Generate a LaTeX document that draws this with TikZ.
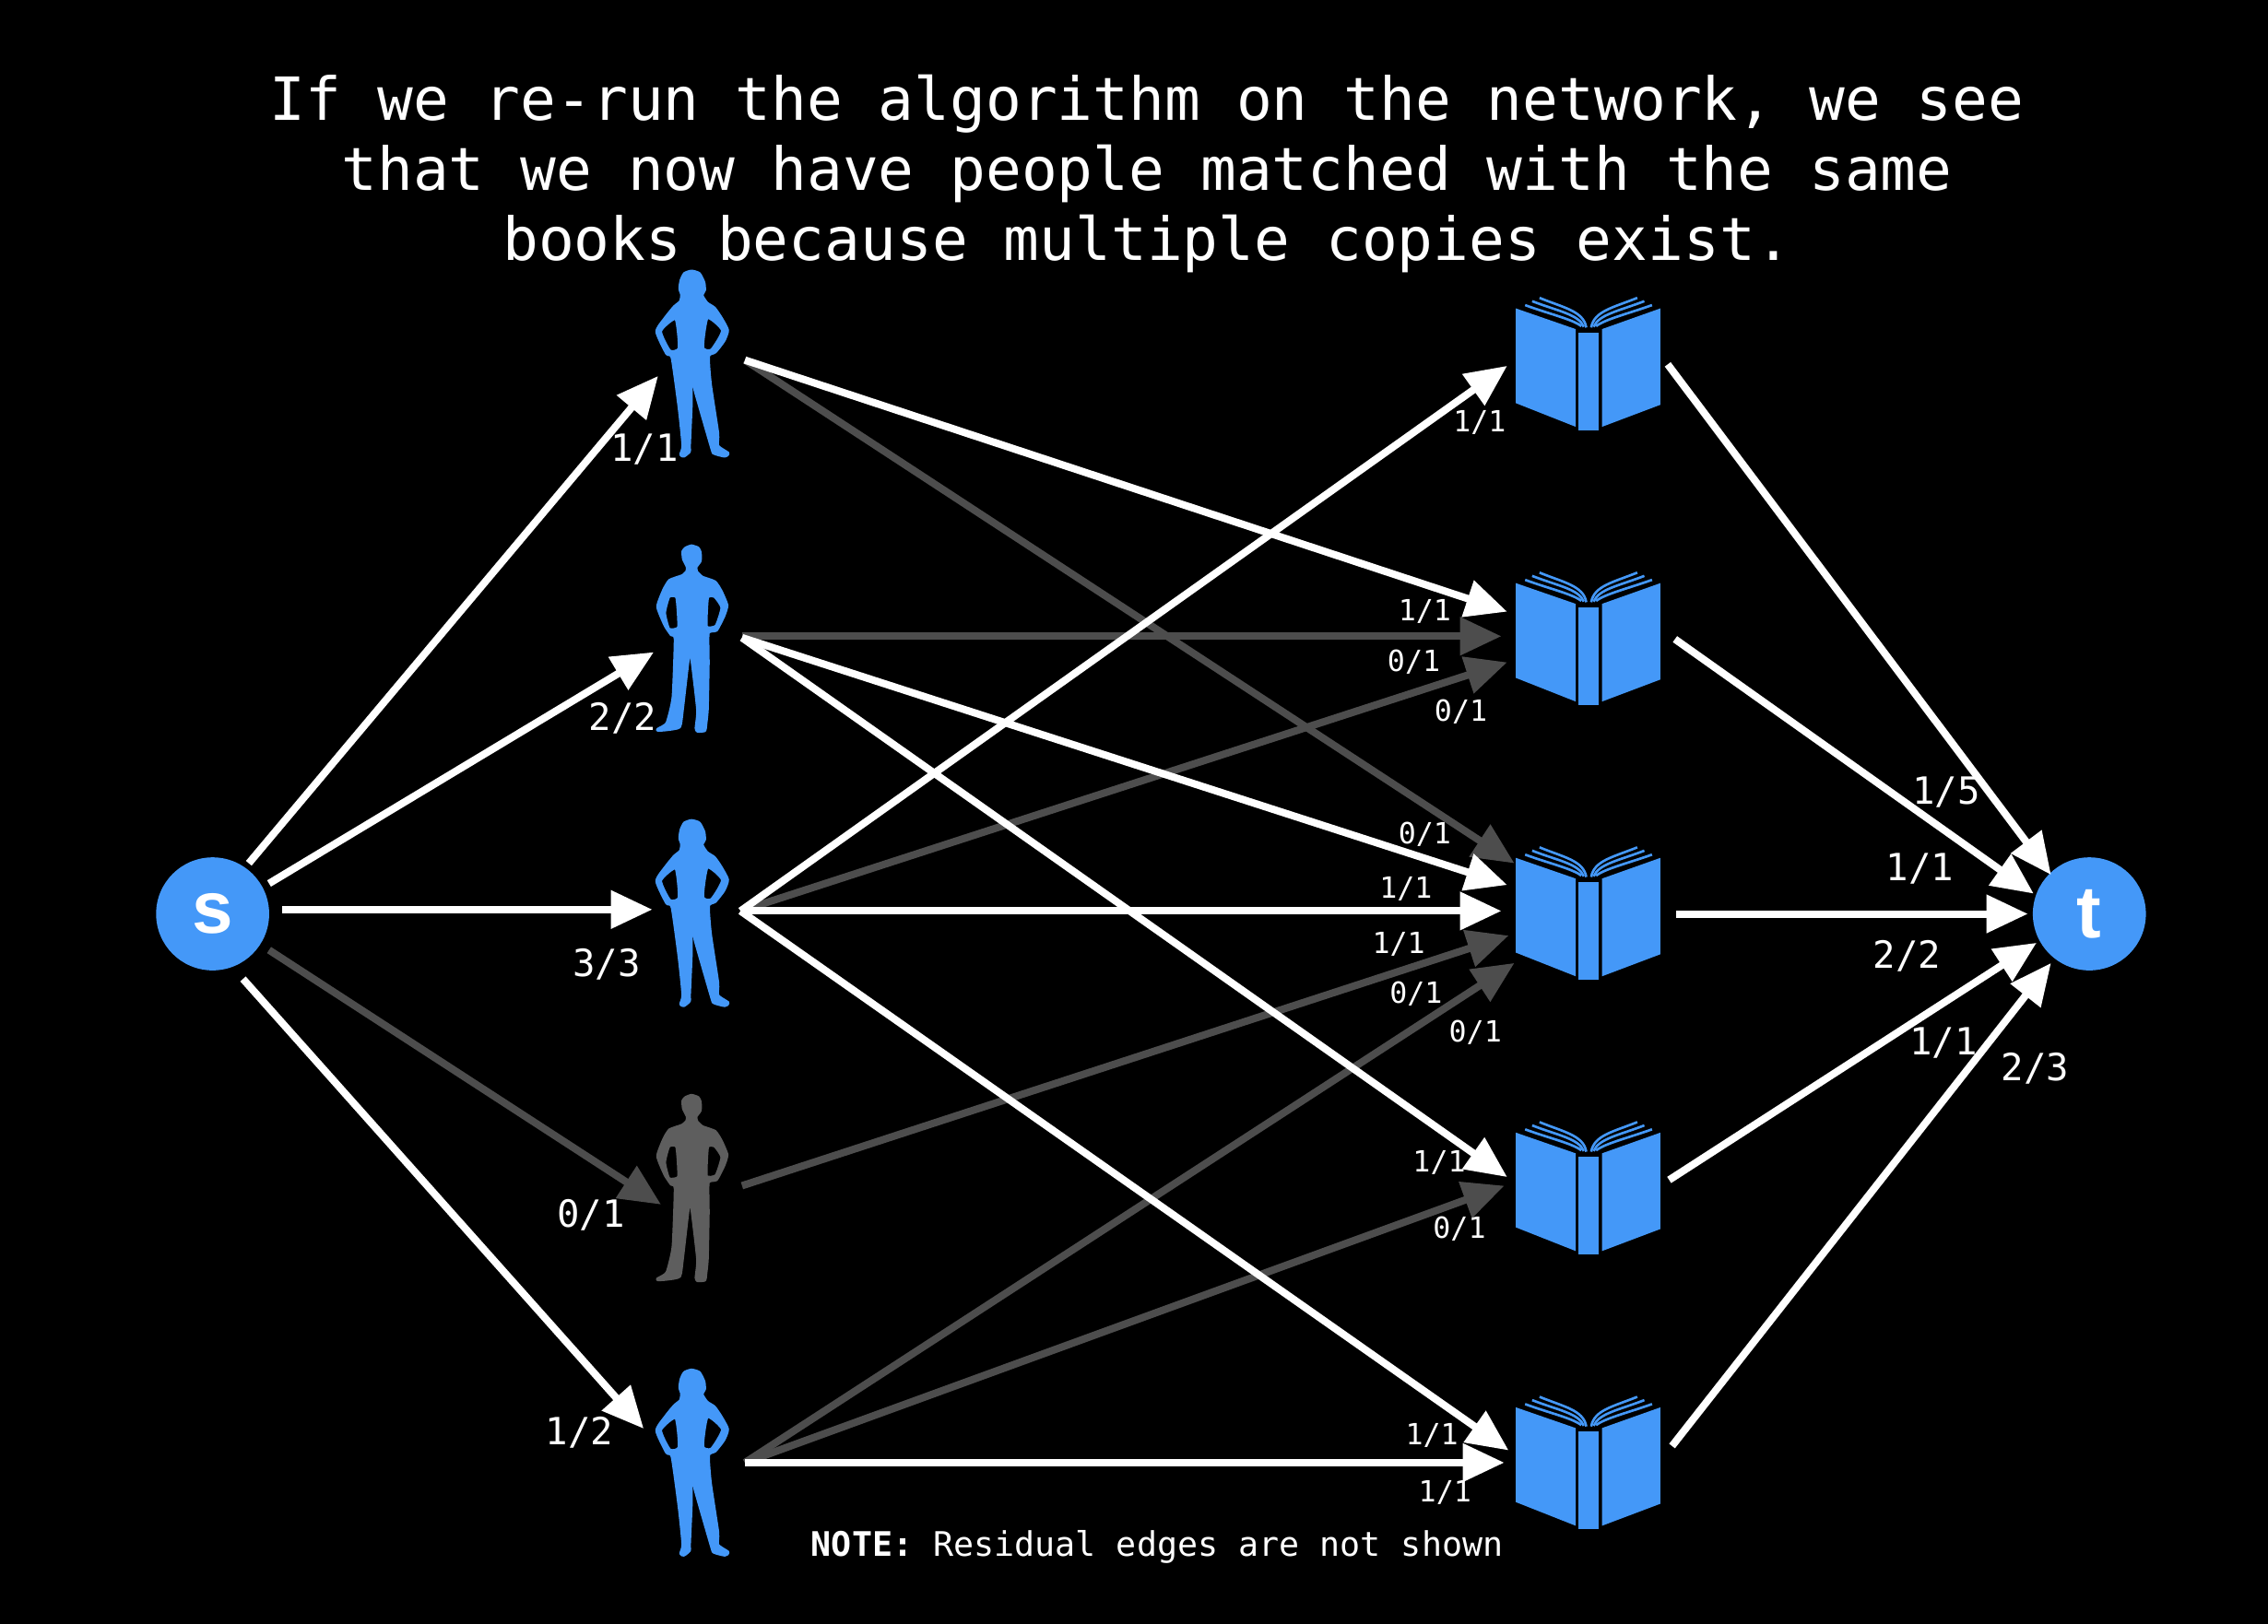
\documentclass[tikz,border=0pt]{standalone}
\usepackage{fontspec}
\usetikzlibrary{arrows.meta}
\newfontfamily\monof{DejaVu Sans Mono}
\newfontfamily\sansf{Liberation Sans}
\definecolor{nodeblue}{HTML}{4498F8}
\definecolor{dimedge}{HTML}{4D4D4D}
\definecolor{dimperson}{HTML}{5E5E5E}
\tikzset{
  liveedge/.style={draw=white,line width=2.4pt,-{Triangle[length=13.5pt,width=12pt]}},
  dimmededge/.style={draw=dimedge,line width=2.4pt,-{Triangle[length=13.5pt,width=12pt]}},
  endpoint/.style={circle,fill=nodeblue,minimum size=36.8pt,inner sep=0pt,text=white,font=\sansf\bfseries\fontsize{24}{24}\selectfont},
  biglabel/.style={text=white,inner sep=0pt,font=\monof\fontsize{12.2}{12.2}\selectfont},
  smalllabel/.style={text=white,inner sep=0pt,font=\monof\fontsize{9.5}{9.5}\selectfont},
  slot/.style={inner sep=0pt,minimum width=24.5pt,minimum height=61pt},
  bookslot/.style={inner sep=0pt,minimum width=47pt,minimum height=43.5pt}
}
\newcommand{\womanshape}[2]{%
  \begin{scope}[shift={(408,#2)},x=0.1pt,y=-0.1pt]
  \filldraw[#1,line width=1pt,line join=round,even odd rule] plot[smooth cycle,tension=0.35] coordinates {(330,73)(355,81)(370,110)(372,135)(364,152)(380,177)(404,193)(425,223)(447,265)(435,300)(407,336)(385,350)(391,440)(415,600)(415,642)(449,666)(438,675)(404,666)(396,650)(344,470)(328,410)(329,500)(323,640)(323,660)(305,675)(295,670)(302,640)(290,520)(267,355)(249,341)(217,270)(244,226)(274,189)(294,172)(298,150)(292,130)(296,103)(307,81)}
    plot[smooth cycle,tension=0.35] coordinates {(381,224)(431,266)(395,330)(366,322)}
    plot[smooth cycle,tension=0.35] coordinates {(279,227)(229,268)(259,333)(290,324)};
  \end{scope}}
\newcommand{\manshape}[2]{%
  \begin{scope}[shift={(408,#2)},x=0.1pt,y=-0.1pt]
  \filldraw[#1,line width=1pt,line join=round,even odd rule] plot[smooth cycle,tension=0.3] coordinates {(330,67)(351,74)(358,88)(358,116)(344,136)(347,152)(365,169)(406,184)(426,214)(445,260)(435,295)(411,341)(384,350)(384,450)(381,600)(376,650)(373,668)(350,670)(345,660)(350,600)(330,430)(320,430)(300,600)(291,656)(250,665)(222,667)(220,664)(250,644)(270,560)(277,370)(264,356)(244,326)(220,265)(240,209)(259,179)(300,164)(315,150)(316,135)(304,110)(302,85)(311,74)}
    plot[smooth cycle,tension=0.3] coordinates {(256,232)(282,234)(288,332)(256,338)(242,285)}
    plot[smooth cycle,tension=0.3] coordinates {(406,232)(429,268)(410,328)(378,330)(382,234)};
  \end{scope}}
\newcommand{\bookshape}[1]{%
  \begin{scope}[shift={(955.6,#1-12.65)},x=0.1pt,y=-0.1071pt]
  \fill[nodeblue] (435,92)--(630,155)--(630,452)--(435,380)--cycle;
  \fill[nodeblue] (715,155)--(905,92)--(905,385)--(715,452)--cycle;
  \fill[nodeblue] (638,165)--(703,165)--(703,462)--(638,462)--cycle;
  \draw[nodeblue,line width=0.8pt] (512,60) .. controls (590,90) and (655,100) .. (664,150);
  \draw[nodeblue,line width=0.8pt] (488,70) .. controls (570,100) and (640,110) .. (656,148);
  \draw[nodeblue,line width=0.8pt] (465,82) .. controls (540,108) and (620,125) .. (648,146);
  \draw[nodeblue,line width=0.8pt] (830,60) .. controls (750,90) and (690,100) .. (680,150);
  \draw[nodeblue,line width=0.8pt] (853,70) .. controls (770,100) and (705,110) .. (688,148);
  \draw[nodeblue,line width=0.8pt] (878,82) .. controls (800,108) and (725,125) .. (696,146);
  \end{scope}}
\begin{document}
\begin{tikzpicture}[x=0.4707pt,y=-0.4707pt]
\fill[black] (0,0) rectangle (1568,1123.1);
\useasboundingbox (0,0) rectangle (1568,1123.1);

% title and note
\node[name=title,text=white,align=center,inner sep=0pt,font=\monof\fontsize{19.35}{22.8}\selectfont] at (793,120)
 {If we re-run the algorithm on the network, we see\\that we now have people matched with the same\\books because multiple copies exist.};
\node[name=note,text=white,inner sep=0pt,font=\monof\fontsize{11}{11}\selectfont] at (800,1070) {\textbf{NOTE:} Residual edges are not shown};

% end nodes
\node[endpoint] (s) at (147,632) {s};
\node[endpoint] (t) at (1444.5,632) {t};

% people
\womanshape{nodeblue}{172}
\manshape{nodeblue}{363.3}
\womanshape{nodeblue}{552}
\manshape{dimperson}{743.3}
\womanshape{nodeblue}{932}
\node[slot] (p1) at (478,252) {};
\node[slot] (p2) at (478,442) {};
\node[slot] (p3) at (478,632) {};
\node[slot] (p4) at (478,822) {};
\node[slot] (p5) at (478,1012) {};

% books
\bookshape{205}\bookshape{395}\bookshape{585}\bookshape{775}\bookshape{965}
\node[bookslot] (b1) at (1098,252.5) {};
\node[bookslot] (b2) at (1098,442.5) {};
\node[bookslot] (b3) at (1098,632.5) {};
\node[bookslot] (b4) at (1098,822.5) {};
\node[bookslot] (b5) at (1098,1012.5) {};

% ports
\coordinate (s1) at (172,597);\coordinate (s2) at (186,611);\coordinate (s3) at (195,629);\coordinate (s4) at (186,657);\coordinate (s5) at (168,677);
\coordinate (p1i) at (455,260);\coordinate (p2i) at (452,451);\coordinate (p3i) at (451,629);\coordinate (p4i) at (457,833);\coordinate (p5i) at (445,988);
\coordinate (p1o) at (515,249);\coordinate (p2o) at (513,441);\coordinate (p3o) at (512,630);\coordinate (p4o) at (513,820);\coordinate (p5o) at (515,1011.5);
\coordinate (p2od) at (513,440);
\coordinate (b1a) at (1042,253);
\coordinate (b2a) at (1042,423);\coordinate (b2b) at (1038,440);\coordinate (b2c) at (1042,458);
\coordinate (b3a) at (1047,597);\coordinate (b3b) at (1042,612);\coordinate (b3c) at (1038,630);\coordinate (b3d) at (1043,647);\coordinate (b3e) at (1047,666);
\coordinate (b4a) at (1042,814);\coordinate (b4b) at (1040,820);
\coordinate (b5a) at (1043,1003);\coordinate (b5b) at (1040,1011.5);
\coordinate (b1o) at (1153,252);\coordinate (b2o) at (1158,442);\coordinate (b3o) at (1159,632);\coordinate (b4o) at (1154,816);\coordinate (b5o) at (1156,1000);
\coordinate (t1) at (1418,605);\coordinate (t2) at (1406,618);\coordinate (t3) at (1402,632);\coordinate (t4) at (1408,652);\coordinate (t5) at (1418,666);

% dimmed connectors
\draw[dimmededge] (s4) -- (p4i);
\draw[dimmededge] (p1o) -- (b3a);
\draw[dimmededge] (p2od) -- (b2b);
\draw[dimmededge] (p3o) -- (b2c);
\draw[dimmededge] (p4o) -- (b3d);
\draw[dimmededge] (p5o) -- (b3e);
\draw[dimmededge] (p5o) -- (b4b);

% live connectors
\draw[liveedge] (s1) -- (p1i);
\draw[liveedge] (s2) -- (p2i);
\draw[liveedge] (s3) -- (p3i);
\draw[liveedge] (s5) -- (p5i);
\draw[liveedge] (p1o) -- (b2a);
\draw[liveedge] (p2o) -- (b3b);
\draw[liveedge] (p2o) -- (b4a);
\draw[liveedge] (p3o) -- (b1a);
\draw[liveedge] (p3o) -- (b3c);
\draw[liveedge] (p3o) -- (b5a);
\draw[liveedge] (p5o) -- (b5b);
\draw[liveedge] (b1o) -- (t1);
\draw[liveedge] (b2o) -- (t2);
\draw[liveedge] (b3o) -- (t3);
\draw[liveedge] (b4o) -- (t4);
\draw[liveedge] (b5o) -- (t5);

% labels
\node[biglabel] (l1) at (445.5,311) {1/1};
\node[biglabel] (l2) at (430.5,497) {2/2};
\node[biglabel] (l3) at (419.5,667) {3/3};
\node[biglabel] (l4) at (408.5,840) {0/1};
\node[biglabel] (l5) at (400.5,991) {1/2};
\node[biglabel] (l6) at (1345.5,548) {1/5};
\node[biglabel] (l7) at (1327.5,601) {1/1};
\node[biglabel] (l8) at (1318.5,661) {2/2};
\node[biglabel] (l9) at (1343.5,721) {1/1};
\node[biglabel] (l10) at (1407,739) {2/3};
\node[smalllabel] (m1) at (1023,292.5) {1/1};
\node[smalllabel] (m2) at (985,423) {1/1};
\node[smalllabel] (m3) at (977.5,458) {0/1};
\node[smalllabel] (m4) at (1010,492) {0/1};
\node[smalllabel] (m5) at (985,577) {0/1};
\node[smalllabel] (m6) at (972,615) {1/1};
\node[smalllabel] (m7) at (967,653) {1/1};
\node[smalllabel] (m8) at (979,687) {0/1};
\node[smalllabel] (m9) at (1020,714) {0/1};
\node[smalllabel] (m10) at (995,804) {1/1};
\node[smalllabel] (m11) at (1009,850) {0/1};
\node[smalllabel] (m12) at (990,993) {1/1};
\node[smalllabel] (m13) at (999,1032) {1/1};
\end{tikzpicture}
\end{document}
